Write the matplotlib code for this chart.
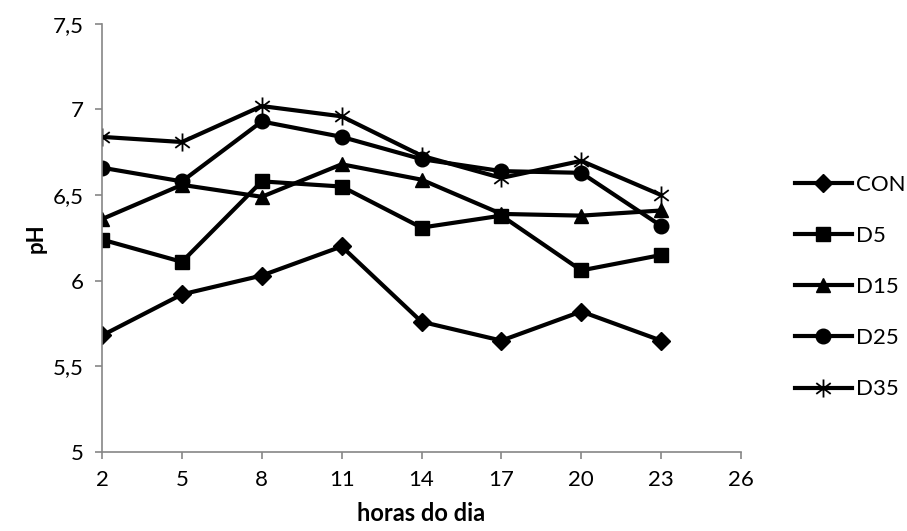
"""Daily pH profile per treatment (CON, D5, D15, D25, D35)."""

import matplotlib

matplotlib.use("Agg")

import matplotlib.pyplot as plt
from matplotlib.path import Path
from matplotlib.ticker import FuncFormatter, MultipleLocator

hours = [2, 5, 8, 11, 14, 17, 20, 23]
hour_ticks = [2, 5, 8, 11, 14, 17, 20, 23, 26]

ph_con = [5.68, 5.92, 6.03, 6.20, 5.76, 5.65, 5.82, 5.65]
ph_d5 = [6.24, 6.11, 6.58, 6.55, 6.31, 6.38, 6.06, 6.15]
ph_d15 = [6.36, 6.56, 6.49, 6.68, 6.59, 6.39, 6.38, 6.41]
ph_d25 = [6.66, 6.58, 6.93, 6.84, 6.71, 6.64, 6.63, 6.32]
ph_d35 = [6.84, 6.81, 7.02, 6.96, 6.73, 6.60, 6.70, 6.50]

labels = ["CON", "D5", "D15", "D25", "D35"]

# asterisk marker: vertical stroke plus two diagonals
star = Path(
    [(0, -1), (0, 1), (-0.8, -0.6), (0.8, 0.6), (-0.8, 0.6), (0.8, -0.6)],
    [Path.MOVETO, Path.LINETO, Path.MOVETO, Path.LINETO, Path.MOVETO, Path.LINETO],
)

plt.rcParams["font.family"] = ["Lato", "DejaVu Sans"]

fig = plt.figure(figsize=(9.07, 5.31), dpi=100)
ax = fig.add_axes([0.1125, 0.149, 0.7045, 0.806])

series = [
    (ph_con, "D", 9.5, 1.0),
    (ph_d5, "s", 10.5, 1.0),
    (ph_d15, "^", 10.5, 1.0),
    (ph_d25, "o", 10.5, 1.0),
    (ph_d35, star, 13, 1.3),
]
for (vals, marker, size, mew), label in zip(series, labels):
    ax.plot(
        hours,
        vals,
        color="black",
        linewidth=3,
        marker=marker,
        markersize=size,
        markeredgewidth=mew,
        markerfacecolor="black",
        markeredgecolor="black",
        label=label,
        solid_joinstyle="round",
    )

ax.set_xlim(2, 26)
ax.set_ylim(5, 7.5)
ax.set_xticks(hour_ticks)
ax.yaxis.set_major_locator(MultipleLocator(0.5))
ax.yaxis.set_major_formatter(FuncFormatter(lambda v, _: f"{v:g}".replace(".", ",")))

for side in ["top", "right"]:
    ax.spines[side].set_visible(False)
for side in ["left", "bottom"]:
    ax.spines[side].set_color("#868686")
    ax.spines[side].set_linewidth(1.2)
ax.tick_params(axis="both", colors="#868686", length=5, width=1.2, labelsize=16,
               labelcolor="black", pad=8)

ax.set_xlabel("horas do dia", fontsize=17, fontweight="bold")
ax.set_ylabel("pH", fontsize=16, fontweight="bold")
ax.xaxis.set_label_coords(0.5, -0.117)
ax.yaxis.set_label_coords(-0.086, 0.5)

ax.legend(
    loc="center left",
    bbox_to_anchor=(1.0845, 0.385),
    frameon=False,
    fontsize=16,
    borderaxespad=0,
    borderpad=0,
    handlelength=2.55,
    handletextpad=0.18,
    labelspacing=1.4,
)

fig.savefig("out.png", dpi=100)
